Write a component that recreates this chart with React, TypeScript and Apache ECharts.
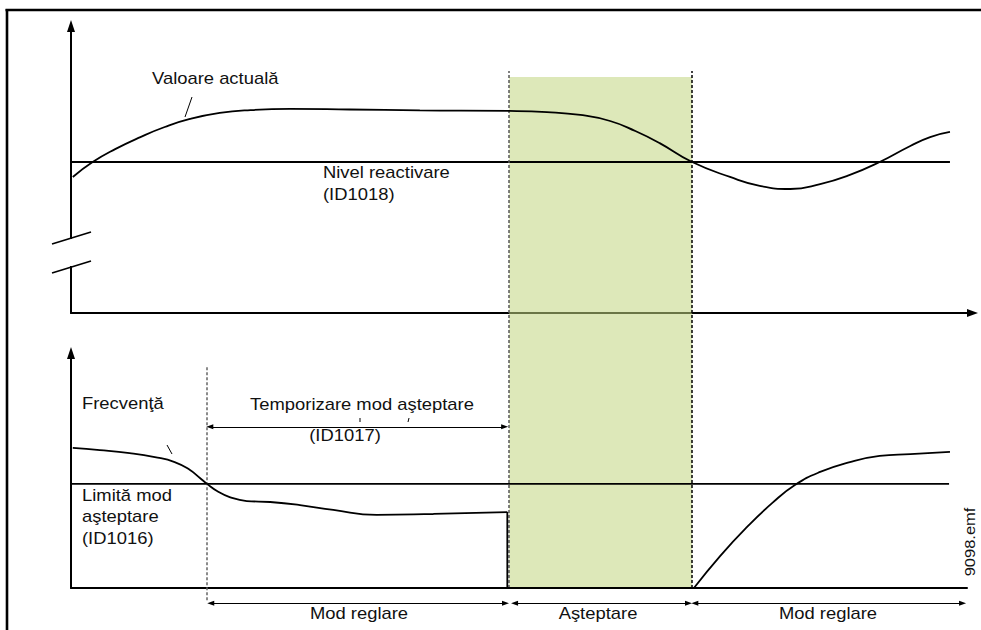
import React, { useEffect, useRef } from "react";
import * as echarts from "echarts";

const FONT = "'Liberation Sans', Arial, Helvetica, sans-serif";

// ---------------- data (time axis 0..100, value axes 0..100) ----------------
// event times
const tSleepDelayStart = 15.1; // start of "Temporizare mod aşteptare"
const tSleepStart = 48.6; // drive goes to sleep
const tWakeUp = 68.9; // drive wakes up

// upper panel: actual value vs. wake-up level
const wakeUpLevel = 52.6;
const actualValueCurve: [number, number][] = [
  [0.2, 47.4], [2.4, 52.6], [4.9, 57.1], [7.7, 61.3], [10.4, 64.8], [13.2, 67.6],
  [16.5, 69.7], [19.9, 70.7], [24.3, 71.1], [30.9, 70.9], [38.7, 70.6], [48.6, 70.4],
  [52.8, 70.0], [56.5, 69.0], [59.8, 66.9], [62.6, 63.4], [65.3, 59.2], [68.9, 52.6],
  [73.1, 47.4], [76.4, 44.3], [79.8, 43.2], [83.1, 44.9], [86.4, 48.1], [89.7, 52.6],
  [93.1, 58.2], [95.3, 61.3], [97.5, 63.1],
];

// lower panel: output frequency vs. sleep limit
const sleepLimit = 44.3;
const frequencyBefore: [number, number][] = [
  [0.2, 59.6], [3.2, 58.7], [6.5, 57.4], [9.3, 55.7], [11.5, 53.6], [13.2, 50.2],
  [14.3, 46.8], [15.1, 44.3], [16.2, 41.3], [17.6, 38.7], [19.5, 37.0], [22.1, 36.6],
  [25.4, 35.3], [29.1, 33.2], [33.9, 31.1], [40.2, 31.5], [48.4, 32.3],
];
const frequencyStop: [number, number][] = [[48.4, 32.3], [48.4, 0], [69.0, 0]];
const frequencyAfter: [number, number][] = [
  [69.1, 0], [72.0, 13.6], [75.0, 26.0], [77.8, 36.2], [80.3, 43.8], [83.1, 49.4],
  [86.4, 53.6], [89.7, 56.2], [93.1, 57.0], [97.5, 57.9],
];

// texts
const labelActual = "Valoare actuală";
const labelWakeLevel = ["Nivel reactivare", "(ID1018)"];
const labelFrequency = "Frecvenţă";
const labelSleepLimit = ["Limită mod", "aşteptare", "(ID1016)"];
const labelSleepDelay = ["Temporizare mod aşteptare", "(ID1017)"];
const phaseLabels = ["Mod reglare", "Aşteptare", "Mod reglare"];
const fileTag = "9098.emf";

// ---------------- layout ----------------
const LEFT = 71;
const RIGHT_END = 972.5;
const W = RIGHT_END - LEFT;
const BOTTOM_W = 967 - LEFT;
const LINE_START = -6.5; // reference lines start left of the y axis
const TOP_LINE_END = 97.5;
const BOT_LINE_END = 97.4;
// overlay grid (whole height, 0..100 over y 620..20)
const OV_GREEN_BOTTOM = 5.33;
const OV_GREEN_TOP = 90.5;
const OV_DIVIDER_TOP = 91.5;
const OV_DELAY_DIV = [3.3, 42.3];
const OV_DELAY_ARROW = 32.2;
const OV_SPAN_ARROW = 2.8;
const OV_SPAN_END = 98.9;

export default function App() {
  const ref = useRef<HTMLDivElement>(null);

  useEffect(() => {
    if (!ref.current) return;
    const chart = echarts.init(ref.current, undefined, { renderer: "svg" });

    const hiddenAxis = {
      axisLabel: { show: false },
      axisTick: { show: false },
      splitLine: { show: false },
    };
    const black = { color: "#000" };

    const text = (
      t: string,
      x: number,
      y: number,
      align: string = "left",
      size = 16,
      extra: any = {}
    ) => ({
      type: "text",
      x,
      y,
      scaleX: 1.15,
      z: 120,
      silent: true,
      style: {
        text: t,
        fontSize: size,
        fontFamily: FONT,
        fill: "#111",
        textAlign: align,
        textVerticalAlign: "middle",
        verticalAlign: "middle",
      },
      ...extra,
    });
    const seg = (x1: number, y1: number, x2: number, y2: number, w = 1.5, z = 110, stroke = "#000") => ({
      type: "line",
      z,
      silent: true,
      shape: { x1, y1, x2, y2 },
      style: { stroke, lineWidth: w },
    });

    const curveStyle = { ...black, width: 1.8 };

    const option: any = {
      animation: false,
      backgroundColor: "#fff",
      grid: [
        { left: LEFT, top: 26, width: W, height: 287 },
        { left: LEFT, top: 353, width: BOTTOM_W, height: 235 },
        { left: LEFT, top: 20, width: W, height: 600 },
      ],
      xAxis: [
        {
          type: "value", gridIndex: 0, min: 0, max: 100, ...hiddenAxis,
          axisLine: { show: true, symbol: ["none", "triangle"], symbolSize: [8, 11], lineStyle: { color: "#000", width: 2 } },
        },
        {
          type: "value", gridIndex: 1, min: 0, max: (100 * BOTTOM_W) / W, ...hiddenAxis,
          axisLine: { show: true, lineStyle: { color: "#000", width: 2 } },
        },
        { type: "value", gridIndex: 2, min: 0, max: 100, show: false },
      ],
      yAxis: [
        {
          type: "value", gridIndex: 0, min: 0, max: 100, ...hiddenAxis,
          axisLine: { show: true, symbol: ["none", "triangle"], symbolSize: [8, 12], lineStyle: { color: "#000", width: 2 } },
        },
        {
          type: "value", gridIndex: 1, min: 0, max: 100, ...hiddenAxis,
          axisLine: { show: true, symbol: ["none", "triangle"], symbolSize: [8, 12], lineStyle: { color: "#000", width: 2 } },
        },
        { type: "value", gridIndex: 2, min: 0, max: 100, show: false },
      ],
      series: [
        {
          name: "Nivel reactivare", type: "line", xAxisIndex: 0, yAxisIndex: 0,
          data: [[LINE_START, wakeUpLevel], [TOP_LINE_END, wakeUpLevel]],
          symbol: "none", clip: false, silent: true, z: 1,
          lineStyle: { ...black, width: 2 },
        },
        {
          name: "Valoare actuală", type: "line", xAxisIndex: 0, yAxisIndex: 0,
          data: actualValueCurve, smooth: 0.5, symbol: "none", silent: true, z: 5,
          lineStyle: curveStyle,
        },
        {
          name: "Limită mod aşteptare", type: "line", xAxisIndex: 1, yAxisIndex: 1,
          data: [[LINE_START, sleepLimit], [BOT_LINE_END, sleepLimit]],
          symbol: "none", clip: false, silent: true, z: 1,
          lineStyle: { ...black, width: 1.6 },
        },
        {
          name: "Frecvenţă", type: "line", xAxisIndex: 1, yAxisIndex: 1,
          data: frequencyBefore, smooth: 0.5, symbol: "none", silent: true, z: 5,
          lineStyle: curveStyle,
        },
        {
          name: "Frecvenţă oprire", type: "line", xAxisIndex: 1, yAxisIndex: 1,
          data: frequencyStop, symbol: "none", silent: true, z: 5,
          lineStyle: curveStyle,
        },
        {
          name: "Frecvenţă reluare", type: "line", xAxisIndex: 1, yAxisIndex: 1,
          data: frequencyAfter, smooth: 0.5, symbol: "none", silent: true, z: 5,
          lineStyle: curveStyle,
        },
        {
          name: "Aşteptare", type: "line", xAxisIndex: 2, yAxisIndex: 2,
          data: [[tSleepStart, OV_GREEN_BOTTOM]], symbol: "none", showSymbol: false, silent: true, z: 3,
          lineStyle: { opacity: 0 },
          markArea: {
            silent: true,
            itemStyle: { color: "rgba(193,213,128,0.55)" },
            label: { show: false },
            data: [[{ coord: [tSleepStart, OV_GREEN_BOTTOM] }, { coord: [tWakeUp, OV_GREEN_TOP] }]],
          },
          markLine: {
            silent: true,
            symbol: ["none", "none"],
            label: { show: false },
            emphasis: { disabled: true },
            lineStyle: { color: "#333", type: [3, 2], width: 1.5 },
            data: [
              [{ coord: [tSleepDelayStart, OV_DELAY_DIV[0]] }, { coord: [tSleepDelayStart, OV_DELAY_DIV[1]], lineStyle: { color: "#666" } }],
              [{ coord: [tSleepStart, OV_GREEN_BOTTOM] }, { coord: [tSleepStart, OV_DIVIDER_TOP], lineStyle: { color: "#555" } }],
              [{ coord: [tWakeUp, OV_GREEN_BOTTOM] }, { coord: [tWakeUp, OV_DIVIDER_TOP], lineStyle: { color: "#000" } }],
            ],
          },
        },
        {
          name: "Intervale", type: "line", xAxisIndex: 2, yAxisIndex: 2,
          data: [[tSleepStart, OV_SPAN_ARROW]], symbol: "none", showSymbol: false, silent: true, z: 4,
          lineStyle: { opacity: 0 },
          markLine: {
            silent: true,
            symbol: ["triangle", "triangle"],
            symbolSize: [5, 7],
            label: { show: false },
            emphasis: { disabled: true },
            lineStyle: { color: "#000", type: "solid", width: 1 },
            data: [
              [{ coord: [tSleepDelayStart + 0.3, OV_DELAY_ARROW] }, { coord: [tSleepStart - 0.5, OV_DELAY_ARROW] }],
              [{ coord: [tSleepDelayStart + 0.4, OV_SPAN_ARROW] }, { coord: [tSleepStart - 0.4, OV_SPAN_ARROW] }],
              [{ coord: [tSleepStart + 0.6, OV_SPAN_ARROW] }, { coord: [tWakeUp - 0.4, OV_SPAN_ARROW] }],
              [{ coord: [tWakeUp + 0.3, OV_SPAN_ARROW] }, { coord: [OV_SPAN_END, OV_SPAN_ARROW] }],
            ],
          },
        },
      ],
      graphic: [
        // frame
        seg(5.5, 10, 981, 10, 2.6, 130),
        seg(7, 9, 7, 630, 2.6, 130),
        // axis break on upper y axis
        { type: "rect", z: 100, silent: true, shape: { x: 66, y: 239, width: 10, height: 27 }, style: { fill: "#fff" } },
        seg(52, 244, 91, 232, 1.6, 101),
        seg(52, 273, 91, 261, 1.6, 101),
        // leader lines
        seg(192, 97, 185, 117, 1),
        seg(167, 445, 172, 454, 1),
        seg(360, 418, 360, 422, 1),
        seg(409, 418, 408, 422, 1),
        // texts
        text(labelActual, 152, 78),
        text(labelWakeLevel[0], 323, 172),
        text(labelWakeLevel[1], 323, 194),
        text(labelFrequency, 82, 403),
        text(labelSleepLimit[0], 82, 495),
        text(labelSleepLimit[1], 82, 516),
        text(labelSleepLimit[2], 82, 538),
        text(labelSleepDelay[0], 362, 404, "center"),
        text(labelSleepDelay[1], 345, 435, "center"),
        text(phaseLabels[0], 359, 613, "center"),
        text(phaseLabels[1], 598, 613, "center"),
        text(phaseLabels[2], 828, 613, "center"),
        text(fileTag, 970, 542, "center", 15, { rotation: Math.PI / 2, scaleX: 1.1 }),
      ],
    };

    chart.setOption(option);
    return () => chart.dispose();
  }, []);

  return (
    <div
      ref={ref}
      style={{ position: "fixed", left: 0, top: 0, width: 981, height: 630, background: "#fff" }}
    />
  );
}
